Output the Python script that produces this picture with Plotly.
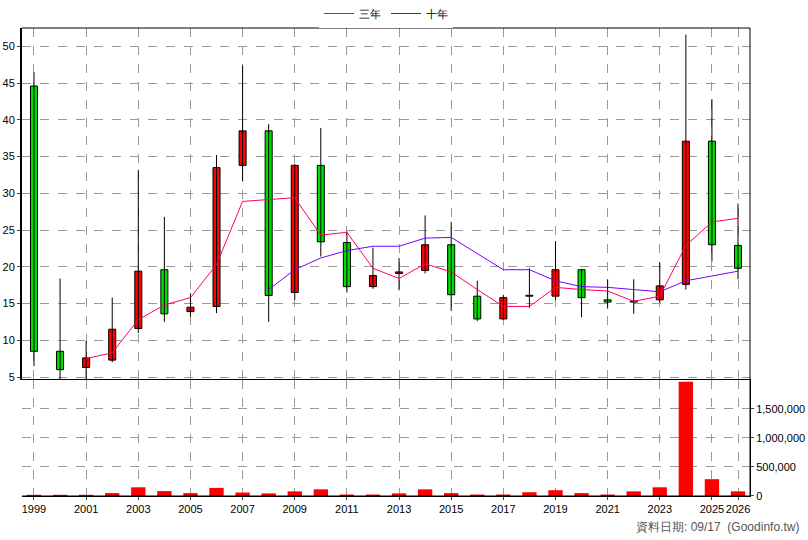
import plotly.graph_objects as go

years = list(range(1999, 2027))
opens  = [44.6, 8.5, 6.3, 7.3, 11.6, 19.6, 13.9, 14.6, 33.8, 38.5, 16.5, 33.8, 23.3, 17.3, 19.1, 19.5, 23.0, 16.0, 12.9, 16.0, 16.0, 19.6, 15.5, 15.2, 15.5, 17.6, 37.1, 22.9]
closes = [8.5, 6.0, 7.6, 11.5, 19.4, 13.6, 14.5, 33.5, 38.5, 16.1, 33.8, 23.4, 17.3, 18.8, 19.3, 23.0, 16.2, 12.9, 15.8, 16.05, 19.6, 15.8, 15.2, 15.25, 17.4, 37.1, 23.0, 19.8]
highs  = [46.5, 18.4, 9.9, 15.8, 33.2, 26.8, 16.4, 35.2, 47.4, 39.4, 34.0, 38.9, 24.8, 22.6, 21.2, 27.0, 26.1, 18.1, 16.2, 19.8, 23.5, 19.6, 18.3, 18.3, 20.6, 51.6, 42.8, 28.6]
lows   = [6.5, 4.5, 4.7, 7.0, 11.0, 12.5, 13.2, 13.7, 31.6, 12.5, 15.5, 21.4, 16.5, 17.0, 16.8, 19.1, 14.0, 12.6, 12.8, 14.4, 15.5, 13.1, 14.3, 13.6, 15.1, 16.9, 20.7, 18.3]
ma3 = [None, None, 7.5, 8.3, 12.8, 14.8, 15.8, 20.3, 28.9, 29.2, 29.4, 24.3, 24.7, 19.8, 18.4, 20.4, 19.3, 16.9, 14.6, 14.6, 17.2, 16.9, 16.7, 15.3, 16.0, 22.9, 26.1, 26.6]
ma10 = [None]*9 + [16.9, 19.6, 21.2, 22.2, 22.8, 22.8, 23.9, 24.0, 21.8, 19.6, 19.6, 18.1, 17.3, 17.2, 16.9, 16.6, 18.1, 18.8, 19.4]
volume = [20000, 20000, 20000, 50000, 150000, 85000, 50000, 140000, 60000, 45000, 80000, 115000, 25000, 25000, 45000, 115000, 50000, 25000, 25000, 65000, 100000, 50000, 25000, 80000, 150000, 1970000, 290000, 80000]
xticks = [1999, 2001, 2003, 2005, 2007, 2009, 2011, 2013, 2015, 2017, 2019, 2021, 2023, 2025, 2026]

fig = go.Figure()
wx, wy = [], []
for x, h, l in zip(years, highs, lows):
    wx += [x, x, None]; wy += [l, h, None]
fig.add_trace(go.Scatter(x=wx, y=wy, mode="lines", line=dict(color="black", width=1), showlegend=False, hoverinfo="skip", yaxis="y"))
base = [min(o, c) for o, c in zip(opens, closes)]
size = [max(abs(c - o), 0.12) for o, c in zip(opens, closes)]
cols = ["#ff0000" if c >= o else "#00dd00" for o, c in zip(opens, closes)]
fig.add_trace(go.Bar(x=years, y=size, base=base, width=0.27, marker=dict(color=cols, line=dict(color="black", width=1)),
                     showlegend=False, yaxis="y"))
fig.add_trace(go.Scatter(x=years, y=ma3, mode="lines", name="三年", line=dict(color="#ff0066", width=1), yaxis="y"))
fig.add_trace(go.Scatter(x=years, y=ma10, mode="lines", name="十年", line=dict(color="#7700ff", width=1), yaxis="y"))
fig.add_trace(go.Bar(x=years, y=volume, marker=dict(color="#ff0000", line=dict(width=0)), width=0.55, showlegend=False, yaxis="y2"))

grid = dict(showgrid=True, gridcolor="#999999", griddash="dash", gridwidth=1, automargin=False)
fig.update_layout(
    width=808, height=540, margin=dict(l=22, r=58, t=28, b=44),
    paper_bgcolor="white", plot_bgcolor="white",
    font=dict(family="Liberation Sans, Arial", size=11, color="black"),
    legend=dict(orientation="h", x=0.5, xanchor="center", yref="container", y=0.975, yanchor="middle",
                font=dict(size=11), itemwidth=30, tracegroupgap=0, borderwidth=0),
    barmode="overlay",
    xaxis=dict(anchor="y2", range=[1998.54, 2026.46], tickvals=xticks, ticktext=[str(t) for t in xticks], tickangle=0,
               showline=True, linecolor="black", mirror=True, ticks="outside", ticklen=3, **grid),
    yaxis=dict(domain=[0.248, 1], range=[4.6, 52.5], tickvals=list(range(5, 55, 5)), side="left",
               showline=True, linecolor="black", linewidth=2, ticks="outside", ticklen=3, zeroline=False, **grid),
    yaxis2=dict(domain=[0, 0.248], range=[0, 2000000], side="right", tickvals=[0, 500000, 1000000, 1500000],
                tickformat=",d", showline=True, linecolor="black", ticks="outside", ticklen=3, zeroline=False, **grid),
)
fig.add_shape(type="line", xref="paper", yref="paper", x0=0, x1=1, y0=1, y1=1, line=dict(color="black", width=1))
fig.add_shape(type="line", xref="paper", yref="paper", x0=1, x1=1, y0=0, y1=1, line=dict(color="black", width=1))
fig.add_shape(type="line", xref="paper", yref="paper", x0=0, x1=1, y0=0, y1=0, line=dict(color="black", width=1))
fig.add_annotation(text="資料日期: 09/17  (Goodinfo.tw)", xref="paper", yref="paper", x=1.07, y=-0.066,
                   xanchor="right", yanchor="middle", showarrow=False, font=dict(size=12, color="#555555"))
fig.write_html("out.html", config={"displayModeBar": False},
               post_script="document.body.style.margin='0px';document.body.style.overflow='hidden';")
